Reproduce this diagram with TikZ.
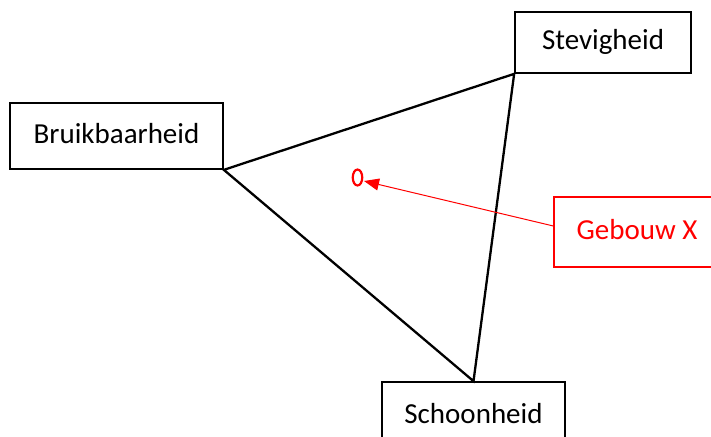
\documentclass[tikz,border=0pt]{standalone}
\usepackage{fontspec}
\setmainfont{Carlito}
\usetikzlibrary{arrows.meta,shapes.geometric}
\begin{document}
\begin{tikzpicture}[x=1pt,y=-1pt,
  lbl/.style={draw=black,line width=1.7pt,fill=white,inner sep=0pt,
    font=\fontsize{29}{34}\selectfont,text height=20pt,text depth=6pt},
  tri/.style={draw=black,line width=2.3pt,line join=miter},
  redbox/.style={draw=red,line width=1.3pt,text=red,inner sep=0pt,
    font=\fontsize{29}{34}\selectfont,text height=20pt,text depth=6pt},
  redarrow/.style={draw=red,line width=1pt,-{Triangle[length=15pt,width=12pt]}}]
\useasboundingbox (0,0) rectangle (711,436);
\node[lbl,minimum width=213pt,minimum height=66pt] (bru) at (116.5,136) {Bruikbaarheid};
\node[lbl,minimum width=176pt,minimum height=61pt] (ste) at (603,42.5) {Stevigheid};
\node[lbl,minimum width=183pt,minimum height=68pt] (sch) at (473.5,416) {Schoonheid};
\node[redbox,minimum width=166pt,minimum height=70pt] (geb) at (637,232) {Gebouw X};
\draw[tri] (bru.south east) -- (ste.south west) -- (sch.north) -- cycle;
\node[draw=red,line width=2.2pt,ellipse,minimum width=9.5pt,minimum height=16pt,inner sep=0pt] (mark) at (357.5,177.5) {};
\coordinate (tip) at (364,181);
\coordinate (start) at (geb.west |- 0,226);
\draw[redarrow] (start) -- (tip);
\end{tikzpicture}
\end{document}
